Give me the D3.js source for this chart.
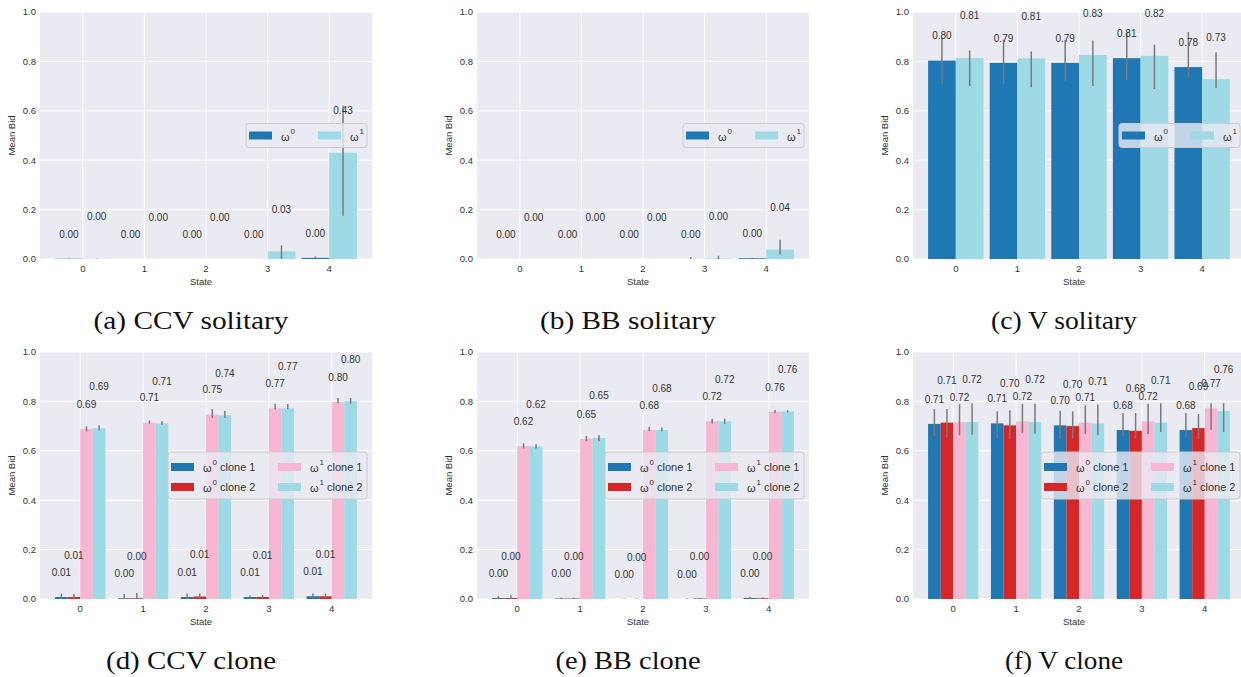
<!DOCTYPE html>
<html>
<head>
<meta charset="utf-8">
<script src="https://cdn.jsdelivr.net/npm/d3@7"></script>
<style>
  body { margin: 0; background: #fff; }
  svg { display: block; }
  text { font-family: "Liberation Sans", Arial, sans-serif; }
</style>
</head>
<body>
<div id="canvas"></div>
<script>
(function () {
  // ---- data ----
  var states = [0, 1, 2, 3, 4];
  var yTicks = [0, 0.2, 0.4, 0.6, 0.8, 1.0];
  var captions = ['(a) CCV solitary', '(b) BB solitary', '(c) V solitary',
                  '(d) CCV clone', '(e) BB clone', '(f) V clone'];
  var soloLegend = [['ω', '0', ''], ['ω', '1', '']];
  var cloneLegend = [['ω', '0', 'clone 1'], ['ω', '0', 'clone 2'],
                     ['ω', '1', 'clone 1'], ['ω', '1', 'clone 2']];

  // (a) CCV solitary
  var ccvSoloW0 = [0.001, 0.000, 0.000, 0.000, 0.0045];
  var ccvSoloW0Err = [[0, 0.002], [0, 0], [0, 0], [0, 0], [0.001, 0.010]];
  var ccvSoloW1 = [0.001, 0.000, 0.000, 0.031, 0.430];
  var ccvSoloW1Err = [[0, 0.002], [0, 0], [0, 0], [0, 0.055], [0.175, 0.620]];

  // (b) BB solitary
  var bbSoloW0 = [0.000, 0.000, 0.000, 0.000, 0.003];
  var bbSoloW0Err = [[0, 0], [0, 0], [0, 0], [0, 0.007], [0, 0.005]];
  var bbSoloW1 = [0.000, 0.000, 0.000, 0.002, 0.038];
  var bbSoloW1Err = [[0, 0], [0, 0], [0, 0], [0, 0.013], [0.018, 0.078]];

  // (c) V solitary
  var vSoloW0 = [0.803, 0.794, 0.794, 0.813, 0.777];
  var vSoloW0Err = [[0.706, 0.897], [0.710, 0.888], [0.722, 0.888], [0.723, 0.915], [0.737, 0.919]];
  var vSoloW1 = [0.814, 0.812, 0.826, 0.823, 0.728];
  var vSoloW1Err = [[0.700, 0.845], [0.695, 0.840], [0.700, 0.885], [0.688, 0.868], [0.692, 0.837]];

  // (d) CCV clone
  var ccvCloneW0c1 = [0.008, 0.003, 0.008, 0.008, 0.011];
  var ccvCloneW0c1Err = [[0, 0.022], [0, 0.020], [0, 0.022], [0.002, 0.014], [0.002, 0.022]];
  var ccvCloneW0c2 = [0.008, 0.003, 0.010, 0.008, 0.011];
  var ccvCloneW0c2Err = [[0, 0.020], [0, 0.024], [0, 0.022], [0.002, 0.016], [0.002, 0.022]];
  var ccvCloneW1c1 = [0.688, 0.714, 0.747, 0.772, 0.797];
  var ccvCloneW1c1Err = [[0.679, 0.699], [0.710, 0.723], [0.733, 0.769], [0.767, 0.790], [0.793, 0.814]];
  var ccvCloneW1c2 = [0.691, 0.711, 0.744, 0.772, 0.801];
  var ccvCloneW1c2Err = [[0.683, 0.703], [0.705, 0.720], [0.733, 0.761], [0.769, 0.790], [0.791, 0.814]];

  // (e) BB clone
  var bbCloneW0c1 = [0.004, 0.002, 0.000, 0.000, 0.004];
  var bbCloneW0c1Err = [[0, 0.012], [0, 0.005], [0, 0.002], [0, 0.002], [0, 0.008]];
  var bbCloneW0c2 = [0.004, 0.002, 0.000, 0.002, 0.003];
  var bbCloneW0c2Err = [[0, 0.015], [0, 0.005], [0, 0.002], [0, 0.004], [0, 0.006]];
  var bbCloneW1c1 = [0.619, 0.648, 0.684, 0.719, 0.758];
  var bbCloneW1c1Err = [[0.609, 0.630], [0.639, 0.660], [0.680, 0.697], [0.711, 0.730], [0.752, 0.765]];
  var bbCloneW1c2 = [0.618, 0.652, 0.684, 0.719, 0.759];
  var bbCloneW1c2Err = [[0.609, 0.627], [0.639, 0.663], [0.679, 0.694], [0.709, 0.730], [0.756, 0.764]];

  // (f) V clone
  var vCloneW0c1 = [0.709, 0.711, 0.703, 0.684, 0.684];
  var vCloneW0c1Err = [[0.661, 0.769], [0.652, 0.760], [0.650, 0.762], [0.658, 0.753], [0.654, 0.753]];
  var vCloneW0c2 = [0.714, 0.703, 0.700, 0.681, 0.692];
  var vCloneW0c2Err = [[0.655, 0.769], [0.648, 0.764], [0.650, 0.760], [0.650, 0.753], [0.648, 0.749]];
  var vCloneW1c1 = [0.716, 0.719, 0.714, 0.719, 0.772];
  var vCloneW1c1Err = [[0.663, 0.789], [0.672, 0.790], [0.668, 0.784], [0.668, 0.790], [0.685, 0.793]];
  var vCloneW1c2 = [0.717, 0.717, 0.711, 0.714, 0.761];
  var vCloneW1c2Err = [[0.665, 0.793], [0.669, 0.790], [0.663, 0.787], [0.676, 0.793], [0.676, 0.793]];

  // ---- styling ----
  var soloColors = ['#1f77b4', '#9edae5'];
  var cloneColors = ['#1f77b4', '#d62728', '#f7b6d2', '#9edae5'];
  var plotW = 332, plotH = 247;
  var textCol = '#333';
  var captionW = [195, 176, 146, 170, 145, 118]; // caption widths in the figure

  var panels = [
    {left: 40,  top: 12,  solo: true,  series: [ccvSoloW0, ccvSoloW1], errs: [ccvSoloW0Err, ccvSoloW1Err]},
    {left: 477, top: 12,  solo: true,  series: [bbSoloW0, bbSoloW1], errs: [bbSoloW0Err, bbSoloW1Err]},
    {left: 913, top: 12,  solo: true,  series: [vSoloW0, vSoloW1], errs: [vSoloW0Err, vSoloW1Err]},
    {left: 40,  top: 352, solo: false, series: [ccvCloneW0c1, ccvCloneW0c2, ccvCloneW1c1, ccvCloneW1c2],
      errs: [ccvCloneW0c1Err, ccvCloneW0c2Err, ccvCloneW1c1Err, ccvCloneW1c2Err]},
    {left: 477, top: 352, solo: false, series: [bbCloneW0c1, bbCloneW0c2, bbCloneW1c1, bbCloneW1c2],
      errs: [bbCloneW0c1Err, bbCloneW0c2Err, bbCloneW1c1Err, bbCloneW1c2Err]},
    {left: 913, top: 352, solo: false, series: [vCloneW0c1, vCloneW0c2, vCloneW1c1, vCloneW1c2],
      errs: [vCloneW0c1Err, vCloneW0c2Err, vCloneW1c1Err, vCloneW1c2Err]}
  ];

  var svg = d3.select('#canvas').append('svg')
        .attr('width', 1241)
        .attr('height', 677);
  svg.append('rect').attr('width', 1241).attr('height', 677).attr('fill', '#fff');

  panels.forEach(function (p, pi) {
    var n = p.series.length;
    var barW = p.solo ? 0.45 : 0.2;
    var half = n * barW / 2;
    var pad = (4 + 2 * half) * 0.05;

    var x = d3.scaleLinear()
          .domain([-half - pad, 4 + half + pad])
          .range([0, plotW]);
    var y = d3.scaleLinear()
          .domain([0, 1])
          .range([plotH, 0]);

    var g = svg.append('g').attr('transform', 'translate(' + p.left + ',' + p.top + ')');

    g.append('rect')
      .attr('width', plotW)
      .attr('height', plotH)
      .attr('fill', '#eaeaf2');

    // grid
    g.selectAll('.hgrid').data(yTicks).enter().append('line')
      .attr('x1', 0).attr('x2', plotW)
      .attr('y1', function (d) { return y(d); })
      .attr('y2', function (d) { return y(d); })
      .attr('stroke', '#fff').attr('stroke-width', 1);
    g.selectAll('.vgrid').data(states).enter().append('line')
      .attr('y1', 0).attr('y2', plotH)
      .attr('x1', function (d) { return x(d); })
      .attr('x2', function (d) { return x(d); })
      .attr('stroke', '#fff').attr('stroke-width', 1);

    // ticks
    g.selectAll('.ytick').data(yTicks).enter().append('text')
      .attr('x', -4)
      .attr('y', function (d) { return y(d); })
      .attr('dy', '0.35em')
      .attr('text-anchor', 'end')
      .attr('font-size', 9.5)
      .attr('fill', textCol)
      .text(function (d) { return d.toFixed(1); });
    g.selectAll('.xtick').data(states).enter().append('text')
      .attr('x', function (d) { return x(d); })
      .attr('y', plotH + 12.5)
      .attr('text-anchor', 'middle')
      .attr('font-size', 9.5)
      .attr('fill', textCol)
      .text(function (d) { return d; });

    g.append('text')
      .attr('x', plotW / 2 - 5)
      .attr('y', plotH + 25.5)
      .attr('text-anchor', 'middle')
      .attr('font-size', 9.5)
      .attr('fill', textCol)
      .text('State');
    g.append('text')
      .attr('transform', 'translate(-25,' + (plotH / 2) + ') rotate(-90)')
      .attr('text-anchor', 'middle')
      .attr('font-size', 9.5)
      .attr('fill', textCol)
      .text('Mean Bid');

    var colors = p.solo ? soloColors : cloneColors;

    p.series.forEach(function (vals, si) {
      var off = -half + barW * (si + 0.5);
      var rows = states.map(function (s, i) {
        return {s: s, v: vals[i], e: p.errs[si][i]};
      });

      g.selectAll('.bar' + si).data(rows).enter().append('rect')
        .attr('x', function (d) { return x(d.s + off - barW / 2); })
        .attr('width', x(barW) - x(0))
        .attr('y', function (d) { return y(d.v); })
        .attr('height', function (d) { return y(0) - y(d.v); })
        .attr('fill', colors[si]);
    });

    // error bars and value labels above the bars
    p.series.forEach(function (vals, si) {
      var off = -half + barW * (si + 0.5);
      var lift = si % 2 === 0 ? 0.1 : 0.17;
      var rows = states.map(function (s, i) {
        return {s: s, v: vals[i], e: p.errs[si][i]};
      });

      g.selectAll('.err' + si).data(rows).enter().append('line')
        .attr('x1', function (d) { return x(d.s + off); })
        .attr('x2', function (d) { return x(d.s + off); })
        .attr('y1', function (d) { return y(d.e[0]); })
        .attr('y2', function (d) { return y(d.e[1]); })
        .attr('stroke', '#7a7a7a')
        .attr('stroke-width', 1.5);

      g.selectAll('.lab' + si).data(rows).enter().append('text')
        .attr('x', function (d) { return x(d.s + off); })
        .attr('y', function (d) { return y(d.v + lift) + 3.5; })
        .attr('text-anchor', 'middle')
        .attr('font-size', 10)
        .attr('fill', textCol)
        .text(function (d) { return d.v.toFixed(2); });
    });

    // legend
    var items = p.solo ? soloLegend : cloneLegend;
    var lw = p.solo ? 121 : 199;
    var lh = p.solo ? 24 : 47;
    var colStep = p.solo ? 69 : 107;
    var rowsPerCol = p.solo ? 1 : 2;
    var lg = g.append('g')
          .attr('transform', 'translate(' + (plotW - 5 - lw) + ',' + (plotH / 2 - lh / 2) + ')');
    lg.append('rect')
      .attr('width', lw).attr('height', lh)
      .attr('rx', 3)
      .attr('fill', '#eaeaf2').attr('fill-opacity', 0.8)
      .attr('stroke', '#cccccc').attr('stroke-width', 1);

    items.forEach(function (it, k) {
      var cx = Math.floor(k / rowsPerCol) * colStep;
      var cy = p.solo ? 12 : 15 + (k % rowsPerCol) * 20;
      lg.append('rect')
        .attr('x', cx + 3).attr('y', cy - 4)
        .attr('width', 23).attr('height', 8)
        .attr('fill', colors[k]);
      lg.append('text')
        .attr('x', cx + 35).attr('y', cy + 5)
        .attr('font-size', 11)
        .attr('fill', textCol)
        .text(it[0]);
      lg.append('text')
        .attr('x', cx + 44.5).attr('y', cy - 2)
        .attr('font-size', 8)
        .attr('fill', textCol)
        .text(it[1]);
      if (it[2]) {
        lg.append('text')
          .attr('x', cx + 52).attr('y', cy + 4)
          .attr('font-size', 11)
          .attr('fill', textCol)
          .text(it[2]);
      }
    });

    // caption under each panel
    svg.append('text')
      .attr('x', p.left + 151)
      .attr('y', p.top + plotH + 70)
      .attr('text-anchor', 'middle')
      .attr('font-size', 25)
      .attr('textLength', captionW[pi])
      .attr('lengthAdjust', 'spacingAndGlyphs')
      .style('font-family', '"Liberation Serif", "DejaVu Serif", serif')
      .attr('fill', '#111')
      .text(captions[pi]);
  });
})();
</script>
</body>
</html>
